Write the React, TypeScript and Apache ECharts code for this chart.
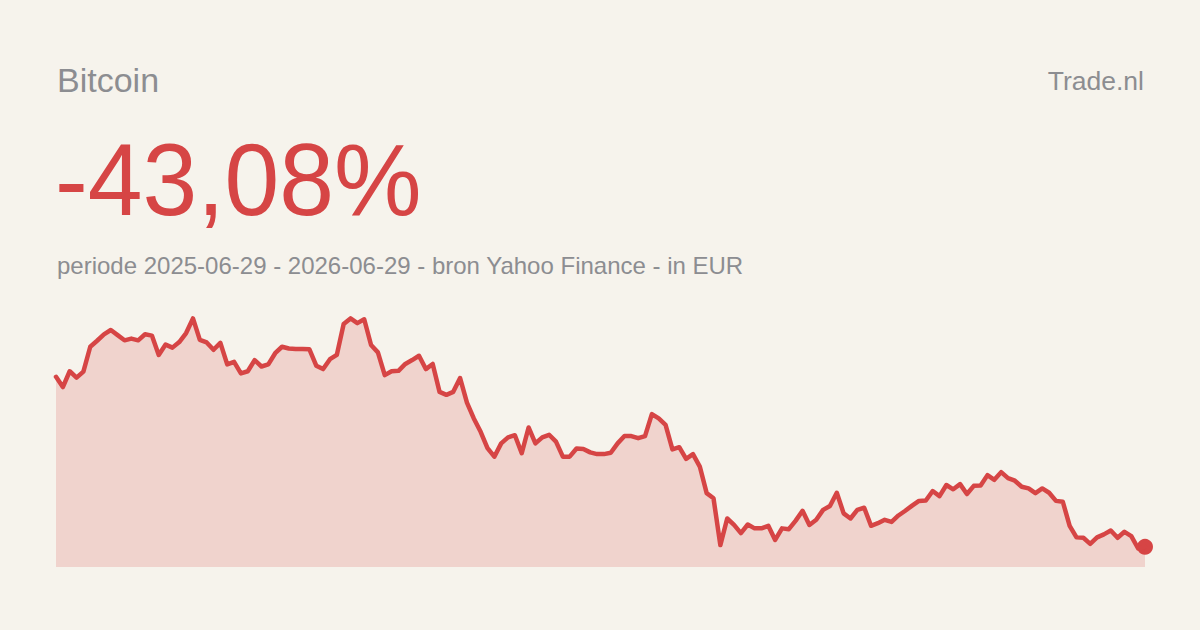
import { useEffect, useRef } from "react";
import * as echarts from "echarts";

// koers in duizend euro
const prices = [
  92.0, 89.6, 93.3, 91.8, 93.2, 99.0, 100.4, 101.9, 102.9, 101.7,
  100.5, 100.9, 100.5, 101.9, 101.6, 97.1, 99.5, 98.8, 100.1, 102.2,
  105.6, 100.6, 100.0, 98.3, 99.9, 94.9, 95.5, 92.8, 93.3, 95.9,
  94.4, 94.9, 97.5, 99.0, 98.6, 98.5, 98.5, 98.4, 94.6, 93.8,
  96.1, 97.1, 104.3, 105.6, 104.5, 105.4, 99.4, 97.7, 92.4, 93.3,
  93.4, 95.0, 95.9, 96.9, 93.8, 95.0, 88.5, 87.8, 88.5, 91.7,
  86.0, 82.3, 79.2, 75.4, 73.4, 76.5, 77.9, 78.4, 74.2, 80.2,
  76.5, 77.9, 78.5, 76.9, 73.4, 73.4, 75.3, 75.2, 74.4, 74.0,
  74.0, 74.3, 76.5, 78.2, 78.2, 77.7, 78.2, 83.3, 82.3, 80.8,
  75.1, 75.6, 72.9, 74.0, 71.1, 64.9, 63.7, 52.8, 59.0, 57.5,
  55.6, 57.6, 56.7, 56.7, 57.3, 54.0, 56.7, 56.5, 58.5, 60.8,
  57.5, 58.7, 61.0, 61.9, 65.0, 60.2, 59.0, 61.0, 61.5, 57.3,
  57.9, 58.7, 58.2, 59.7, 60.8, 62.0, 63.1, 63.2, 65.4, 64.2,
  66.8, 65.8, 67.0, 64.7, 66.6, 66.7, 69.1, 68.0, 69.8, 68.4,
  67.8, 66.4, 66.0, 64.9, 66.0, 65.0, 63.1, 62.9, 57.3, 54.6,
  54.5, 53.1, 54.6, 55.3, 56.2, 54.5, 55.9, 54.9, 52.0, 52.4,
];

const startDate = Date.UTC(2025, 5, 29);
const endDate = Date.UTC(2026, 5, 29);
const dates = prices.map((_, i) =>
  new Date(startDate + ((endDate - startDate) * i) / (prices.length - 1)).toISOString().slice(0, 10)
);

const BG = "#f6f3ec";
const RED = "#d64545";
const GREY = "#8c8d91";
const FONT = "'Liberation Sans', sans-serif";

export default function App() {
  const chartRef = useRef<HTMLDivElement>(null);

  useEffect(() => {
    if (!chartRef.current) return;
    document.body.style.margin = "0";
    document.body.style.background = BG;

    const chart = echarts.init(chartRef.current, null, { renderer: "svg" });
    const lastIndex = prices.length - 1;

    chart.setOption({
      animation: false,
      backgroundColor: BG,
      grid: { left: 56, width: 1089, top: 318, height: 249 },
      xAxis: { type: "category", data: dates, boundaryGap: false, show: false },
      yAxis: { type: "value", min: 47.7, max: 105.7, show: false },
      series: [
        {
          type: "line",
          data: prices,
          showSymbol: false,
          clip: false,
          lineStyle: { color: RED, width: 4.5, join: "round", cap: "round" },
          areaStyle: { color: RED, opacity: 0.18 },
        },
        {
          type: "scatter",
          data: [[lastIndex, prices[lastIndex]]],
          symbolSize: 16,
          clip: false,
          itemStyle: { color: RED, opacity: 1 },
        },
      ],
      graphic: [
        {
          type: "text",
          left: 57,
          top: 63,
          style: { text: "Bitcoin", font: `400 34px ${FONT}`, fill: GREY },
        },
        {
          type: "text",
          right: 56,
          top: 67,
          style: { text: "Trade.nl", font: `400 26.5px ${FONT}`, fill: GREY },
        },
        {
          type: "text",
          x: 55,
          y: 128,
          scaleX: 0.965,
          style: { text: "-43,08%", font: `400 102px ${FONT}`, fill: RED },
        },
        {
          type: "text",
          left: 57,
          top: 253,
          style: {
            text: "periode 2025-06-29 - 2026-06-29 - bron Yahoo Finance - in EUR",
            font: `400 24px ${FONT}`,
            fill: GREY,
          },
        },
      ],
    });

    return () => {
      chart.dispose();
    };
  }, []);

  return <div ref={chartRef} style={{ width: 1200, height: 630 }} />;
}
